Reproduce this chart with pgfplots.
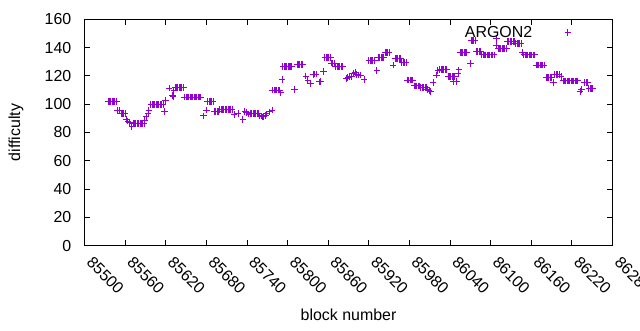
\documentclass[border=0pt]{standalone}
\usepackage{fontspec}
\setmainfont{Liberation Sans}
\usepackage{pgfplots}
\usepackage{pgfplotstable}
\pgfplotsset{compat=1.18}
\definecolor{dv}{HTML}{9400D3}

\pgfplotstableread{
x y
85535 102
85537 102
85539 102
85541 102
85543 102
85545 102
85547 102
85549 95.7
85551 95.7
85554 93.6
85556 93.6
85558 93.6
85560 93.6
85562 89.3
85564 88
85567 86.9
85570 84.1
85572 86.5
85574 86.5
85576 86.5
85578 86.5
85580 86.5
85582 86.5
85584 86.5
85586 86.5
85588 86.5
85589 88.8
85591 91
85594 93.6
85595 95.5
85598 99.6
85600 99.6
85602 99.6
85604 99.6
85606 99.6
85608 99.6
85610 99.6
85612 99.6
85614 99.6
85616 99.6
85618 94.7
85620 102.5
85625 111.4
85630 106
85631 105.3
85632 110
85634 112
85636 112
85638 112
85640 112
85642 112
85644 112
85646 112
85648 105
85650 105
85652 105
85654 105
85656 105
85658 105
85660 105
85662 105
85664 105
85666 105
85668 105
85670 105
85672 105
85676 91.7
85680 95.9
85682 102
85684 102
85686 102
85688 102
85690 102
85692 95
85694 95
85696 95
85698 95
85700 96.4
85702 96.4
85704 96.4
85706 96.4
85708 96.4
85710 96.4
85712 96.4
85714 96.4
85716 96.4
85718 96.4
85721 92.6
85727 93.6
85734 89.3
85737 94.7
85739 94
85743 93
85745 93.6
85747 93.6
85749 93.6
85751 93.6
85753 93.6
85755 93.6
85757 93.6
85759 91.7
85761 91.7
85763 91
85765 91
85767 92
85769 93.1
85773 94.5
85777 95.9
85778 110
85780 110
85782 110
85784 110
85786 110
85788 110
85790 108
85792 117.6
85793 126.5
85795 126.5
85797 126.5
85799 126.5
85801 126.5
85803 126.5
85805 126.5
85806 126.5
85810 110.5
85814 128.2
85816 128.2
85818 128.2
85820 128.2
85822 128.2
85827 119.9
85830 117
85834 114.8
85838 121
85840 121.3
85842 121.3
85847 115.7
85849 115.9
85853 123
85855 133
85857 133
85859 133
85861 133
85863 133
85865 129
85867 129
85869 129
85871 126.5
85873 126.5
85875 126.5
85877 126.5
85879 126.5
85881 126.5
85887 118.3
85889 119
85892 119.4
85895 119.4
85897 122
85900 122.3
85902 121
85905 120.6
85908 120.6
85913 117.6
85920 130.7
85922 130.7
85924 130.7
85926 130.7
85928 130.7
85932 123.7
85934 133
85936 133
85938 133
85940 133
85942 133
85944 136.4
85946 136.4
85948 136.4
85950 136.4
85956 127.7
85959 132.4
85961 132.4
85963 132.4
85965 132.4
85967 132.4
85969 129.5
85971 129.5
85973 129.5
85975 129.5
85977 117.1
85979 117.1
85981 117.1
85983 117.1
85985 117.1
85987 112.9
85989 112.9
85991 112.9
85993 112.9
85995 112.9
85997 111.9
85999 111.9
86001 111.9
86003 111.9
86005 111.9
86007 110.5
86009 109.5
86011 109
86015 115.2
86020 120.6
86022 124
86025 124.7
86027 124.7
86029 124.7
86031 124.7
86033 124.7
86035 124.7
86037 119.5
86039 119.5
86041 119.5
86043 119.5
86045 119.5
86047 119.5
86045 115.9
86050 115.9
86052 121.8
86053 124.2
86055 136.4
86057 136.4
86059 136.4
86061 136.4
86063 136.4
86065 136.4
86070 128.9
86071 144.9
86073 144.9
86075 144.9
86077 144.9
86079 137.1
86081 137.1
86083 137.1
86085 137.1
86087 134.8
86089 134.8
86091 134.8
86093 134.8
86095 134.8
86097 134.8
86099 134.8
86101 134.8
86103 134.8
86105 134.8
86109 146.6
86109 141.8
86111 139.5
86113 139.5
86115 139.5
86117 139.5
86119 139.5
86121 139.5
86123 139.5
86125 144.2
86127 144.2
86129 144.2
86131 144.2
86133 144.2
86135 144.2
86137 143
86139 143
86141 143
86143 143
86145 143
86147 136.4
86149 134.8
86151 134.8
86153 134.8
86155 134.8
86157 134.8
86159 134.8
86161 134.8
86163 134.8
86165 134.8
86167 127.7
86169 127.7
86171 127.7
86173 127.7
86175 127.7
86177 127.7
86179 127.7
86182 119
86184 119
86186 119
86188 119
86190 119
86193 115.2
86195 121
86197 121
86199 121
86201 121
86204 119.4
86207 116.4
86209 116.4
86211 116.4
86213 116.4
86215 116.4
86217 116.4
86219 116.4
86221 116.4
86223 116.4
86225 116.4
86227 116.4
86229 116.4
86232 109
86234 110.5
86239 115.2
86241 115.2
86243 115.2
86245 111.2
86247 111.2
86249 111.2
86251 111.2
}\argon

\begin{document}
\begin{tikzpicture}[x=1bp,y=1bp]
\useasboundingbox (0,0) rectangle (640,330);
\begin{axis}[
  at={(84.5bp,84.3bp)}, anchor=south west,
  scale only axis, width=528bp, height=226.4bp,
  xmin=85500, xmax=86280, ymin=0, ymax=160,
  xtick={85500,85560,85620,85680,85740,85800,85860,85920,85980,86040,86100,86160,86220,86280},
  ytick={0,20,40,60,80,100,120,140,160},
  scaled x ticks=false,
  scaled y ticks=false,
  xticklabel={\pgfmathprintnumber[fixed,precision=0,1000 sep={},assume math mode=true]{\tick}},
  /pgf/number format/1000 sep={},
  /pgf/number format/assume math mode=true,
  tick align=inside,
  major tick length=6bp,
  axis line style={line width=0.9bp},
  every tick/.style={black, line width=0.9bp},
  tick label style={font=\fontsize{16}{19}\selectfont},
  yticklabel style={anchor=east, inner sep=0pt, xshift=-13bp},
  xticklabel style={inner sep=0pt, yshift=-14bp, xshift=5bp, rotate=-45, anchor=west},
  xlabel={block number},
  ylabel={difficulty},
  label style={font=\fontsize{16}{19}\selectfont},
  xlabel style={at={(axis description cs:0.5,-0.306)}, anchor=center},
  ylabel style={at={(axis description cs:-0.1297,0.5)}, anchor=center},
  legend style={draw=none, fill=none, inner sep=0pt, column sep=32.5bp,
    nodes={inner sep=0pt}, font=\fontsize{16}{19}\selectfont,
    at={(0.9223,0.9408)}, anchor=east},
  legend plot pos=right,
  legend cell align=right,
]
\addplot[only marks, mark=+, mark size=3.3bp, color=dv, mark options={line width=1bp}]
  table[x=x, y=y] {\argon};
\addlegendentry{ARGON2}
\end{axis}
\end{tikzpicture}
\end{document}
